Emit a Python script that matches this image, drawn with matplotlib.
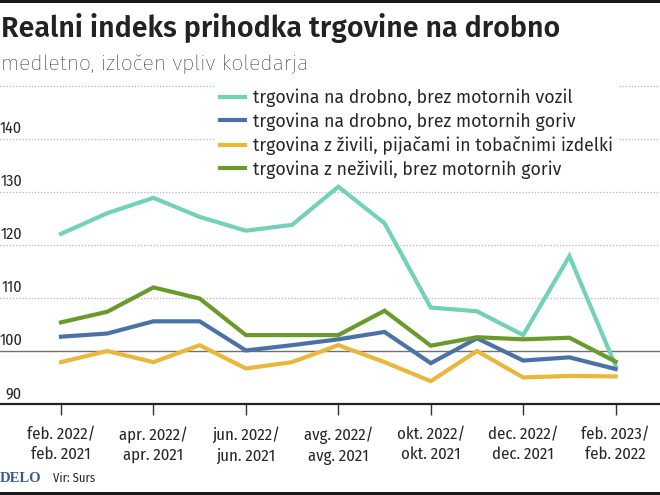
import matplotlib
matplotlib.use("Agg")
import matplotlib.pyplot as plt
from matplotlib.lines import Line2D

months = ["feb. 2022", "mar. 2022", "apr. 2022", "maj 2022", "jun. 2022", "jul. 2022",
          "avg. 2022", "sep. 2022", "okt. 2022", "nov. 2022", "dec. 2022", "jan. 2023", "feb. 2023"]
tick_labels = ["feb. 2022/\nfeb. 2021", "apr. 2022/\napr. 2021", "jun. 2022/\njun. 2021",
               "avg. 2022/\navg. 2021", "okt. 2022/\nokt. 2021", "dec. 2022/\ndec. 2021",
               "feb. 2023/\nfeb. 2022"]

series_names = ["trgovina na drobno, brez motornih vozil",
                "trgovina na drobno, brez motornih goriv",
                "trgovina z živili, pijačami in tobačnimi izdelki",
                "trgovina z neživili, brez motornih goriv"]
vozil = [122.1, 126.0, 128.9, 125.3, 122.7, 123.8, 131.0, 124.1, 108.2, 107.5, 103.0, 117.9, 97.2]
goriv = [102.7, 103.3, 105.6, 105.6, 100.1, 101.1, 102.2, 103.6, 97.7, 102.4, 98.2, 98.8, 96.6]
zivila = [97.9, 100.0, 97.9, 101.1, 96.7, 97.9, 101.1, 97.9, 94.3, 100.0, 95.0, 95.3, 95.2]
nezivila = [105.4, 107.4, 112.0, 109.9, 103.0, 103.0, 103.0, 107.6, 101.0, 102.6, 102.2, 102.5, 98.0]
colors = ["#72d1b8", "#4a72a8", "#e9b73a", "#6a9a2c"]

yticks = [90, 100, 110, 120, 130, 140]

COND = ["Fira Sans Condensed", "DejaVu Sans"]
FIRA = ["Fira Sans", "DejaVu Sans"]
TXT = "#262626"

W, H = 660, 495
fig = plt.figure(figsize=(6.6, 4.95), dpi=100)
fig.patch.set_facecolor("white")

# axes: x pixels 0..660, y pixels 404 (90) .. 80.7 (151)
ax = fig.add_axes([0, 1 - 404 / H, 1, (404 - 80.7) / H])
x = list(range(len(months)))
for vals, c, name in zip([vozil, goriv, zivila, nezivila], colors, series_names):
    ax.plot(x, vals, color=c, lw=3.0, solid_joinstyle="miter", label=name, zorder=3)

ax.set_xlim(-1.32, 12.96)
ax.set_ylim(90, 151)
for v in [110, 120, 130, 140, 150]:
    ax.axhline(v, color="#b5b5b5", lw=0.9, ls=(0, (1, 1.5)), zorder=1)
ax.axhline(100, color="#707070", lw=1.0, zorder=2)

for s in ["top", "right", "left"]:
    ax.spines[s].set_visible(False)
ax.spines["bottom"].set_color("#222222")
ax.spines["bottom"].set_linewidth(1.6)
ax.set_yticks([])
ax.set_xticks(list(range(0, 13, 2)))
ax.set_xticklabels(tick_labels, fontsize=12, color=TXT, family=COND, linespacing=1.35)
ax.tick_params(axis="x", length=8, width=1.0, color="#333333", pad=8)

for v in yticks:
    ax.text(22 / W, v + 1.95, str(v), transform=ax.get_yaxis_transform(),
            ha="right", va="center", fontsize=11.5, color=TXT, family=COND)

handles = [Line2D([0], [0], color=c, lw=3.0) for c in colors]
fs_leg = 12.75
leg = ax.legend(handles, series_names, loc="upper left",
                bbox_to_anchor=(215 / W, (H - 83) / H), bbox_transform=fig.transFigure,
                frameon=True, fontsize=fs_leg, handlelength=1.4, handletextpad=0.42,
                labelspacing=0.3, borderpad=0.3, borderaxespad=0)
leg.get_frame().set_facecolor("white")
leg.get_frame().set_edgecolor("none")
leg.get_frame().set_alpha(1)
for t in leg.get_texts():
    t.set_family(FIRA)
    t.set_color(TXT)
leg.set_zorder(5)

# top and bottom bars
fig.add_artist(plt.Rectangle((0, 1 - 3 / H), 1, 3 / H, transform=fig.transFigure,
                             color="#1a1a1a", lw=0))
fig.add_artist(plt.Rectangle((0, 0), 1, 3 / H, transform=fig.transFigure,
                             color="#1a1a1a", lw=0))

fig.text(1 / W, 1 - 37 / H, "Realni indeks prihodka trgovine na drobno", fontsize=20.6,
         fontweight="semibold", color="#222222", va="baseline", ha="left", family=FIRA)
fig.text(1 / W, 1 - 70 / H, "medletno, izločen vpliv koledarja", fontsize=15.4,
         fontweight="light", color="#0a0a0a", va="baseline", ha="left", family=FIRA)

fig.text(0 / W, 1 - 478 / H, "DELO", fontsize=10.5, fontweight="bold", color="#3b5a8c",
         family=["Liberation Serif", "DejaVu Serif"], va="center", ha="left")
fig.text(53 / W, 1 - 478 / H, "Vir: Surs", fontsize=9, color=TXT,
         family=COND, va="center", ha="left")

fig.savefig("out.png", dpi=100, facecolor="white")
